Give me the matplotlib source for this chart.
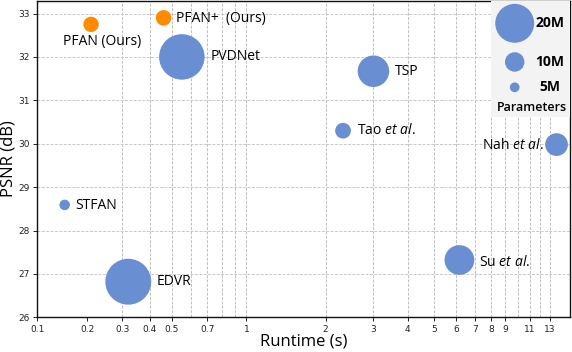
import numpy as np
import matplotlib.pyplot as plt
from matplotlib.patches import Rectangle

plt.rcParams['mathtext.fontset'] = 'custom'
plt.rcParams['mathtext.rm'] = 'Open Sans'
plt.rcParams['mathtext.it'] = 'Open Sans:italic'

# data
methods = ['PFAN (Ours)', 'PFAN+  (Ours)', 'PVDNet', 'TSP', r'Tao $\mathit{et\ al.}$',
           r'Nah $\mathit{et\ al.}$', 'STFAN', 'EDVR', r'Su $\mathit{et\ al.}$']
runtime = [0.21, 0.46, 0.55, 3.0, 2.32, 13.7, 0.15, 0.32, 6.15]
psnr = [32.75, 32.9, 32.0, 31.67, 30.3, 29.98, 28.59, 26.82, 27.32]
params = [7.9, 8.0, 23.4, 16.2, 8.1, 11.7, 5.4, 23.6, 15.3]
ours = [True, True, False, False, False, False, False, False, False]

legend_params = [20, 10, 5]
x_ticks = [0.1, 0.2, 0.3, 0.4, 0.5, 0.7, 1, 2, 3, 4, 5, 6, 7, 8, 9, 11, 13]
x_grid = [0.3, 0.4, 0.5, 0.6, 0.7, 0.8, 0.9, 1, 2, 3, 4, 5, 6, 7, 8, 9, 10, 11, 12, 13]
y_ticks = [26, 27, 28, 29, 30, 31, 32, 33]

# label offsets in points (dx, dy, ha)
label_pos = [(-20.4, -12, 'left'), (9.1, -0.5, 'left'), (20.9, 0, 'left'),
             (15.3, -0.5, 'left'), (9.9, 0, 'left'), (-9.1, -0.5, 'right'),
             (7.9, -0.7, 'left'), (20.4, 0, 'left'), (14.2, -1.6, 'left')]

blue = '#6a8ed2'
orange = '#ff8c00'


def msize(p):
    return (1.4 * np.asarray(p)) ** 2


fig = plt.figure(figsize=(5.72, 3.52), dpi=100)
ax = fig.add_axes([37.3 / 572, (352 - 317.3) / 352, 532.7 / 572, 316.8 / 352])

ax.set_xscale('function', functions=(lambda x: np.log10(x + 0.1),
                                     lambda y: 10 ** y - 0.1))
ax.set_xlim(0.1, 15.3)
ax.set_ylim(26, 33.3)

colors = [orange if o else blue for o in ours]
ax.scatter(runtime, psnr, s=msize(params), c=colors, linewidths=0, zorder=3)

for name, x, y, (dx, dy, ha) in zip(methods, runtime, psnr, label_pos):
    ax.annotate(name, (x, y), xytext=(dx, dy), textcoords='offset points',
                ha=ha, va='center', fontsize=10, family='Open Sans',
                color='black', zorder=4)

ax.xaxis.remove_overlapping_locs = False
ax.set_xticks(x_ticks)
ax.set_xticklabels([('%g' % t) for t in x_ticks])
ax.set_xticks(x_grid, minor=True)
ax.set_yticks(y_ticks)
ax.tick_params(axis='both', which='major', labelsize=6.5, labelcolor='#222222',
               length=3, width=0.6, pad=2.5)
ax.tick_params(axis='x', which='minor', length=0)
ax.grid(False)
ax.xaxis.grid(True, which='minor', color='#bdbdbd', linestyle=(0, (3, 1.5)), lw=0.7)
ax.yaxis.grid(True, which='major', color='#c8c8c8', linestyle=(0, (3, 1.5)), lw=0.7)
ax.set_axisbelow(True)

ax.set_xlabel('Runtime (s)', fontsize=12, family='Open Sans', labelpad=0)
ax.set_ylabel('PSNR (dB)', fontsize=12, family='Open Sans', labelpad=1)

for sp in ax.spines.values():
    sp.set_linewidth(1.0)
    sp.set_color('#111111')

# bubble size legend
ax.add_patch(Rectangle((0.8511, 0.6323), 0.1489, 0.3677, transform=ax.transAxes,
                       facecolor='#f3f3f3', edgecolor='none', zorder=5))
leg_y = [0.928, 0.806, 0.726]
ax.scatter([0.8962] * 3, leg_y, s=msize(legend_params), c=blue, linewidths=0,
           transform=ax.transAxes, zorder=6, clip_on=False)
for p, y in zip(legend_params, leg_y):
    ax.text(0.962, y, '%dM' % p, transform=ax.transAxes, ha='center', va='center',
            fontsize=10, family='Open Sans', weight='bold', zorder=7)
ax.text(0.9283, 0.6607, 'Parameters', transform=ax.transAxes, ha='center',
        va='center', fontsize=9, family='Open Sans', weight='semibold', zorder=7)

fig.savefig('out.png', dpi=100)
